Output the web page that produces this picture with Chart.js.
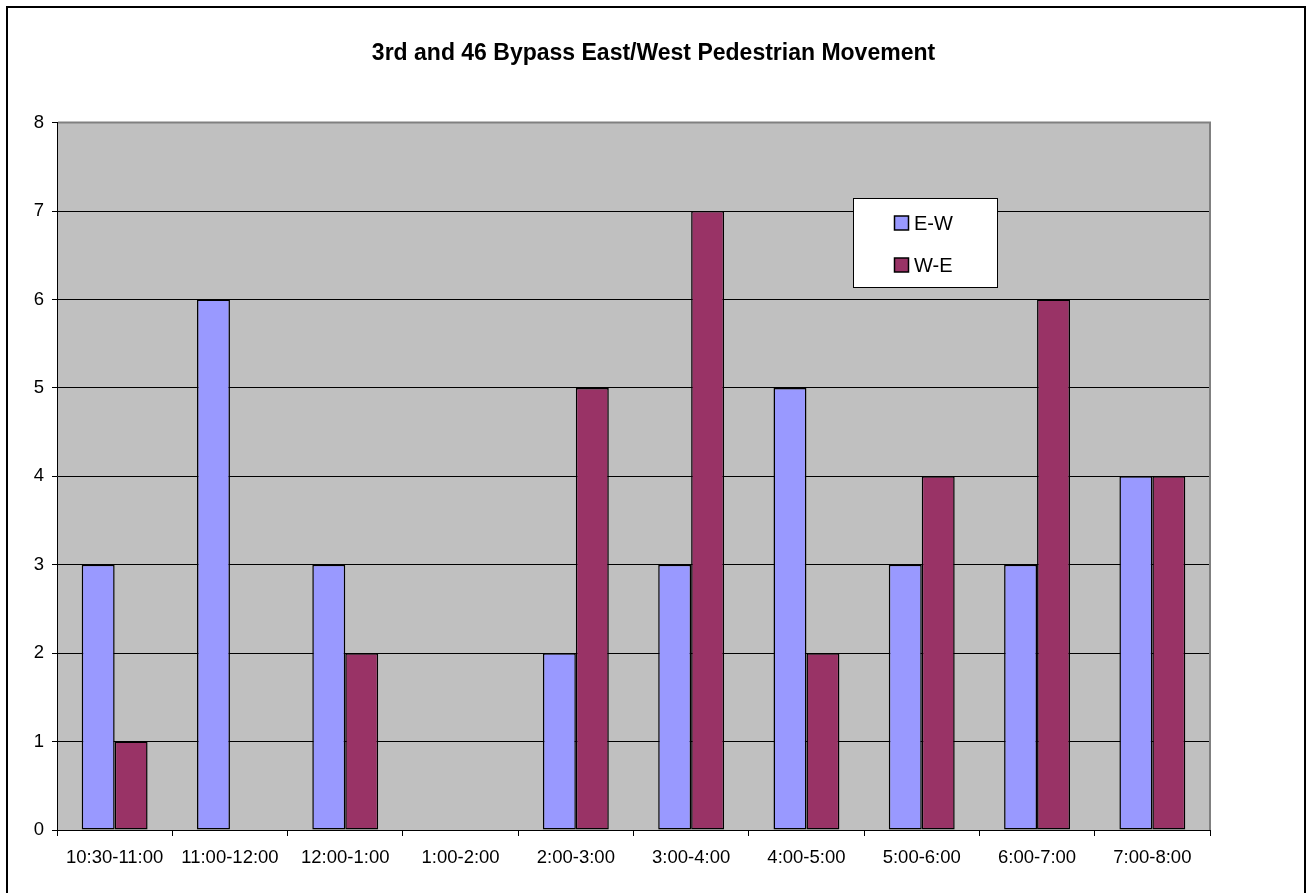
<!DOCTYPE html>
<html>
<head>
<meta charset="utf-8">
<script src="https://cdn.jsdelivr.net/npm/chart.js@4"></script>
<style>
  html, body { margin: 0; padding: 0; background: #fff; }
  #wrap { width: 1307px; height: 893px; position: relative; }
</style>
</head>
<body>
<div id="wrap"><canvas id="myChart" width="1307" height="893"></canvas></div>
<script>
var titleText = '3rd and 46 Bypass East/West Pedestrian Movement';
var timeSlots = ['10:30-11:00', '11:00-12:00', '12:00-1:00', '1:00-2:00', '2:00-3:00',
                 '3:00-4:00', '4:00-5:00', '5:00-6:00', '6:00-7:00', '7:00-8:00'];
var eastWest = [3, 6, 3, 0, 2, 3, 5, 3, 3, 4];
var westEast = [1, 0, 2, 0, 5, 7, 2, 4, 6, 4];
var yTicks = [0, 1, 2, 3, 4, 5, 6, 7, 8];

// white page, outer frame and grey plot area
var backdrop = {
    id: 'backdrop',
    beforeDraw: function(chart){
        var ctx = chart.ctx, a = chart.chartArea;
        ctx.save();
        ctx.fillStyle = '#fff';
        ctx.fillRect(0, 0, chart.width, chart.height);
        ctx.strokeStyle = '#000';
        ctx.lineWidth = 2;
        ctx.strokeRect(7, 7, 1298, 920);
        ctx.fillStyle = '#c0c0c0';
        ctx.fillRect(a.left, a.top, a.right - a.left, a.bottom - a.top);
        ctx.restore();
    },
    afterDatasetsDraw: function(chart){
        // grey frame on top and right of the plot
        var ctx = chart.ctx, a = chart.chartArea;
        ctx.save();
        ctx.strokeStyle = '#808080';
        ctx.lineWidth = 2;
        ctx.beginPath();
        ctx.moveTo(a.left + 1, a.top);
        ctx.lineTo(a.right, a.top);
        ctx.lineTo(a.right, a.bottom);
        ctx.stroke();
        ctx.restore();
    }
};

// boxed legend sitting inside the plot, like the spreadsheet one
var boxLegend = {
    id: 'boxLegend',
    afterDraw: function(chart){
        var ctx = chart.ctx;
        var x = 853.5, y = 198.5, w = 144, h = 89;
        ctx.save();
        ctx.fillStyle = '#fff';
        ctx.fillRect(x, y, w, h);
        ctx.strokeStyle = '#000';
        ctx.lineWidth = 1;
        ctx.strokeRect(x, y, w, h);
        ctx.font = '20px "Liberation Sans", Arial, sans-serif';
        ctx.textBaseline = 'middle';
        chart.data.datasets.forEach(function(ds, i){
            var cy = 223 + i * 42;
            ctx.fillStyle = ds.backgroundColor;
            ctx.fillRect(894.5, cy - 7, 14, 14);
            ctx.strokeStyle = '#000';
            ctx.lineWidth = 1.5;
            ctx.strokeRect(894.5, cy - 7, 14, 14);
            ctx.fillStyle = '#000';
            ctx.fillText(ds.label, 914, cy + 1);
        });
        ctx.restore();
    }
};

var ctx = document.getElementById('myChart').getContext('2d');
Chart.defaults.font.family = '"Liberation Sans", Arial, sans-serif';
Chart.defaults.color = '#000';

var myChart = new Chart(ctx, {
    type: 'bar',
    data: {
        labels: timeSlots,
        datasets: [{
            label: 'E-W',
            data: eastWest,
            backgroundColor: '#9999ff',
            borderColor: '#000',
            borderWidth: 1.5,
            borderSkipped: false,
            categoryPercentage: 2 / 3.5,
            barPercentage: 1
        },{
            label: 'W-E',
            data: westEast,
            backgroundColor: '#993366',
            borderColor: '#000',
            borderWidth: 1.5,
            borderSkipped: false,
            categoryPercentage: 2 / 3.5,
            barPercentage: 1
        }]
    },
    options: {
        responsive: false,
        animation: false,
        layout: { padding: 0 },
        plugins: {
            legend: { display: false },
            tooltip: { enabled: false },
            title: {
                display: true,
                text: titleText,
                font: { size: 23, weight: 'bold' },
                color: '#000',
                padding: { top: 40, bottom: 55 }
            }
        },
        scales: {
            x: {
                offset: true,
                grid: {
                    offset: true,
                    drawOnChartArea: false,
                    drawTicks: true,
                    tickLength: 6,
                    color: '#000'
                },
                border: { display: true, color: '#000', width: 1 },
                ticks: { font: { size: 18.5 }, padding: 11, maxRotation: 0, autoSkip: false },
                afterFit: function(scale){ scale.height = 63; }
            },
            y: {
                min: 0,
                max: 8,
                afterBuildTicks: function(scale){
                    scale.ticks = yTicks.map(function(v){ return { value: v }; });
                },
                grid: {
                    color: '#000',
                    lineWidth: 1,
                    drawTicks: true,
                    tickLength: 5
                },
                border: { display: true, color: '#000', width: 1 },
                ticks: { font: { size: 18.5 }, padding: 8 },
                afterFit: function(scale){ scale.width = 57; }
            },
            // empty right-hand strip so the title centres on the whole page
            yRight: {
                position: 'right',
                min: 0,
                max: 8,
                grid: { display: false },
                border: { display: false },
                ticks: { display: false },
                afterFit: function(scale){ scale.width = 97; }
            }
        }
    },
    plugins: [backdrop, boxLegend]
});
</script>
</body>
</html>
